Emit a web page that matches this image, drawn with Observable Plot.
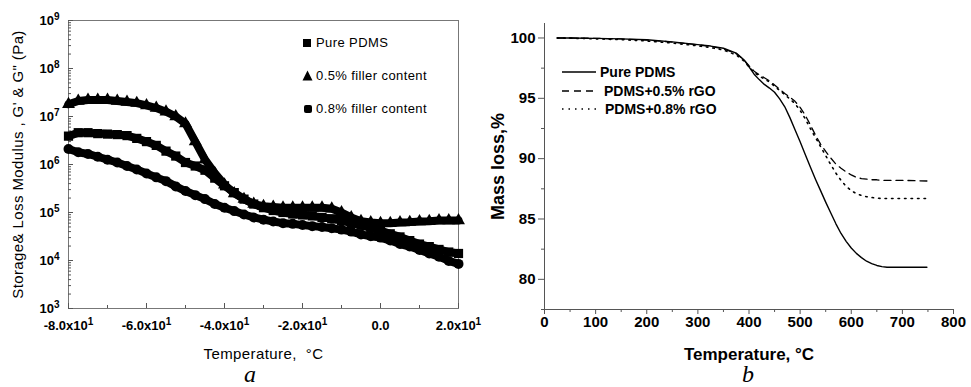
<!DOCTYPE html>
<html><head><meta charset="utf-8">
<script src="https://cdn.jsdelivr.net/npm/d3@7"></script>
<script src="https://cdn.jsdelivr.net/npm/@observablehq/plot@0.6"></script>
<style>
body{margin:0;background:#fff;}
#wrap{position:relative;width:971px;height:387px;overflow:hidden;background:#fff;font-family:"Liberation Sans",Arial,sans-serif;}
#pa{position:absolute;left:0;top:0;}
#pb{position:absolute;left:485px;top:0;}
.cap{position:absolute;font-family:"Liberation Serif","DejaVu Serif",serif;font-style:italic;font-size:24px;line-height:18px;}
.leg{position:absolute;display:flex;align-items:center;white-space:nowrap;color:#000;}
.legA{font-size:13px;letter-spacing:0.4px;}
.legB{font-size:14px;font-weight:bold;}
#pa [aria-label="y-axis tick label"],#pa [aria-label="x-axis tick label"]{font-size:13px;font-weight:bold;}
#pa [aria-label="y-axis label"],#pa [aria-label="x-axis label"]{font-size:15px;letter-spacing:0.4px;}
#pb [aria-label="y-axis tick label"],#pb [aria-label="x-axis tick label"]{font-size:15px;font-weight:bold;}
#pb [aria-label="y-axis label"]{font-size:18px;font-weight:bold;}
#pb [aria-label="x-axis label"]{font-size:17px;font-weight:bold;}
</style>
</head><body>
<div id="wrap"><div id="pa"></div><div id="pb"></div></div>
<script>
// ---------- Panel a: rheology ----------
const seriesNamesA = ["Pure PDMS", "0.5% filler content", "0.8% filler content"];
const tempA = [-80,-77.5,-75,-72.5,-70,-67.5,-65,-62.5,-60,-57.5,-55,-52.5,-50,-47.5,-45,-42.5,-40,-37.5,-35,-32.5,-30,-27.5,-25,-22.5,-20,-17.5,-15,-12.5,-10,-7.5,-5,-2.5,0,2.5,5,7.5,10,12.5,15,17.5,20];
const pureA = [3.9e6,4.6e6,4.6e6,4.4e6,4.3e6,4.2e6,4.0e6,3.5e6,3.0e6,2.5e6,1.9e6,1.5e6,1.1e6,9.3e5,7.6e5,5.2e5,3.6e5,2.6e5,1.9e5,1.5e5,1.26e5,1.1e5,1.0e5,9.3e4,8.9e4,8.5e4,7.9e4,7.4e4,6.8e4,6.0e4,5.4e4,4.8e4,4.2e4,3.6e4,3.1e4,2.6e4,2.2e4,1.95e4,1.7e4,1.5e4,1.4e4];
const f05A = [1.8e7,2.1e7,2.2e7,2.2e7,2.2e7,2.1e7,2.0e7,1.9e7,1.7e7,1.5e7,1.26e7,1.0e7,7.1e6,3.0e6,1.26e6,6.6e5,3.8e5,2.5e5,1.9e5,1.5e5,1.35e5,1.3e5,1.26e5,1.26e5,1.26e5,1.26e5,1.26e5,1.2e5,1.0e5,7.9e4,6.6e4,6.2e4,6.0e4,6.0e4,6.2e4,6.3e4,6.5e4,6.6e4,6.8e4,6.8e4,6.8e4];
const f08A = [2.1e6,1.8e6,1.66e6,1.45e6,1.26e6,1.1e6,9.3e5,7.9e5,6.5e5,5.4e5,4.5e5,3.5e5,2.8e5,2.3e5,1.9e5,1.5e5,1.26e5,1.07e5,9.1e4,7.9e4,7.1e4,6.5e4,6.0e4,5.8e4,5.5e4,5.2e4,5.0e4,4.7e4,4.4e4,4.0e4,3.5e4,3.2e4,3.0e4,2.6e4,2.2e4,1.95e4,1.66e4,1.4e4,1.2e4,9.8e3,8.5e3];
const xTicksA = [-80,-60,-40,-20,0,20];
const xTickLabelsA = ["-8.0x10¹","-6.0x10¹","-4.0x10¹","-2.0x10¹","0.0","2.0x10¹"];
const xMinorA = [-70,-50,-30,-10,10];
const yTicksA = [1e3,1e4,1e5,1e6,1e7,1e8,1e9];
const yTickLabelsA = ["10³","10⁴","10⁵","10⁶","10⁷","10⁸","10⁹"];

// ---------- Panel b: TGA ----------
const seriesNamesB = ["Pure PDMS", "PDMS+0.5% rGO", "PDMS+0.8% rGO"];
const tempB = [25,50,100,150,200,250,300,325,350,375,390,400,410,420,430,440,450,460,470,480,490,500,510,520,530,540,550,560,570,580,590,600,610,620,630,640,650,660,670,700,748];
const pureB = [100.0,100.0,99.97,99.93,99.85,99.68,99.45,99.33,99.15,98.75,98.2,97.6,97.0,96.55,96.15,95.85,95.5,94.95,94.3,93.4,92.4,91.4,90.35,89.3,88.3,87.35,86.4,85.5,84.6,83.8,83.15,82.6,82.15,81.8,81.5,81.3,81.15,81.05,81.0,81.0,81.0];
const f05B = [100.0,100.0,99.97,99.92,99.83,99.66,99.43,99.3,99.1,98.7,98.2,97.7,97.25,96.95,96.7,96.45,96.1,95.75,95.4,95.1,94.75,94.25,93.6,92.8,91.95,91.2,90.6,90.05,89.55,89.2,88.9,88.65,88.45,88.35,88.3,88.25,88.25,88.2,88.2,88.2,88.15];
const f08B = [100.0,99.98,99.93,99.86,99.75,99.58,99.35,99.2,99.0,98.6,98.1,97.6,97.15,96.85,96.6,96.35,96.0,95.65,95.3,94.95,94.55,94.0,93.3,92.5,91.75,91.0,90.25,89.5,88.8,88.2,87.7,87.35,87.1,86.95,86.85,86.78,86.72,86.7,86.7,86.7,86.7];
const xTicksB = [0,100,200,300,400,500,600,700,800];
const xMinorB = [50,150,250,350,450,550,650,750];
const yTicksB = [80,85,90,95,100];
const yMinorB = [77.5,82.5,87.5,92.5,97.5];

// tables
const rowsA = tempA.map((t, i) => ({t, pure: pureA[i], f05: f05A[i], f08: f08A[i]}));
const rowsB = tempB.map((t, i) => ({t, pure: pureB[i], f05: f05B[i], f08: f08B[i]}));
const yMinorA = [];
for (let e = 3; e < 9; e++) for (let m = 2; m <= 9; m++) yMinorA.push(m * Math.pow(10, e));
const xLabA = new Map(xTicksA.map((d, i) => [d, xTickLabelsA[i]]));
const yLabA = new Map(yTicksA.map((d, i) => [d, yTickLabelsA[i]]));

const font = "'Liberation Sans', Arial, sans-serif";

const chartA = Plot.plot({
  width: 485, height: 365,
  marginLeft: 68, marginRight: 27, marginTop: 20, marginBottom: 57,
  style: {fontFamily: font, color: "#000", background: "#fff", overflow: "visible"},
  x: {domain: [-80, 20]},
  y: {type: "log", domain: [1e3, 1e9]},
  marks: [
    Plot.frame({stroke: "#777"}),
    Plot.axisX(xTicksA, {tickSize: -5, tickPadding: 17, stroke: "#555", tickFormat: d => xLabA.get(d),
      label: "Temperature,  °C", labelAnchor: "center", labelOffset: 50, labelArrow: "none"}),
    Plot.axisX(xMinorA, {tickSize: -3, stroke: "#555", tickFormat: () => "", label: null}),
    Plot.axisY(yTicksA, {tickSize: -5, tickPadding: 14, stroke: "#555", tickFormat: d => yLabA.get(d),
      label: "Storage& Loss Modulus , G' & G\" (Pa)", labelAnchor: "center", labelOffset: 56, labelArrow: "none"}),
    Plot.axisY(yMinorA, {tickSize: -3, stroke: "#555", tickFormat: () => "", label: null}),
    Plot.line(rowsA, {x: "t", y: "pure", stroke: "#000", strokeWidth: 8}),
    Plot.line(rowsA, {x: "t", y: "f05", stroke: "#000", strokeWidth: 8}),
    Plot.line(rowsA, {x: "t", y: "f08", stroke: "#000", strokeWidth: 8}),
    Plot.dot(rowsA, {x: "t", y: "pure", symbol: "square", r: 5.2, fill: "#000"}),
    Plot.dot(rowsA, {x: "t", y: "f05", symbol: "triangle", r: 4.8, fill: "#000"}),
    Plot.dot(rowsA, {x: "t", y: "f08", symbol: "circle", r: 5, fill: "#000"})
  ]
});
document.getElementById("pa").append(chartA);

const chartB = Plot.plot({
  width: 486, height: 365,
  marginLeft: 59, marginRight: 18, marginTop: 23, marginBottom: 56,
  style: {fontFamily: font, color: "#000", background: "#fff", overflow: "visible"},
  x: {domain: [0, 800]},
  y: {domain: [77.5, 101.2]},
  marks: [
    Plot.ruleX([0], {stroke: "#555"}),
    Plot.ruleY([77.5], {stroke: "#555"}),
    Plot.axisX(xTicksB, {tickSize: 5, tickPadding: 2, stroke: "#555",
      label: "Temperature, °C", labelAnchor: "center", labelOffset: 50, labelArrow: "none"}),
    Plot.axisX(xMinorB, {tickSize: 3, stroke: "#555", tickFormat: () => "", label: null}),
    Plot.axisY(yTicksB, {tickSize: 6, tickPadding: 3, stroke: "#555",
      label: "Mass loss,%", labelAnchor: "center", labelOffset: 53, labelArrow: "none"}),
    Plot.axisY(yMinorB, {tickSize: 3, stroke: "#555", tickFormat: () => "", label: null}),
    Plot.line(rowsB, {x: "t", y: "pure", stroke: "#000", strokeWidth: 1.4}),
    Plot.line(rowsB, {x: "t", y: "f05", stroke: "#000", strokeWidth: 1.3, strokeDasharray: "7,5"}),
    Plot.line(rowsB, {x: "t", y: "f08", stroke: "#000", strokeWidth: 1.6, strokeDasharray: "1.5,5"})
  ]
});
document.getElementById("pb").append(chartB);

// render superscript exponents of panel a tick labels as raised tspans
const supMap = {"⁰":"0","¹":"1","²":"2","³":"3","⁴":"4","⁵":"5","⁶":"6","⁷":"7","⁸":"8","⁹":"9"};
document.querySelectorAll('#pa [aria-label$="tick label"] text').forEach(t => {
  const m = t.textContent.match(/^(.*?)([⁰¹²³⁴⁵⁶⁷⁸⁹]+)$/);
  if (!m) return;
  t.textContent = m[1];
  const ts = document.createElementNS("http://www.w3.org/2000/svg", "tspan");
  ts.setAttribute("dy", "-0.45em");
  ts.setAttribute("font-size", "10px");
  ts.textContent = m[2].split("").map(c => supMap[c]).join("");
  t.append(ts);
});

// legends & captions
const wrap = document.getElementById("wrap");
function addDiv(cls, left, top, html) {
  const d = document.createElement("div");
  d.className = cls; d.style.left = left + "px"; d.style.top = top + "px"; d.innerHTML = html;
  wrap.append(d); return d;
}
const symA = [
  '<svg width="12" height="10"><rect x="1" y="1" width="8" height="8" fill="#000"/></svg>',
  '<svg width="12" height="12"><path d="M5.5,0.5 L10.5,10.5 L0.5,10.5 Z" fill="#000"/></svg>',
  '<svg width="12" height="10"><rect x="2" y="1" width="8" height="8" rx="2" fill="#000"/></svg>'
];
const legTopA = [35, 68, 101];
seriesNamesA.forEach((n, i) => addDiv("leg legA", 302, legTopA[i], symA[i] + '<span style="margin-left:2px">' + n + '</span>'));
const dashB = ["", "7,5", "1.5,5"];
const legTopB = [63, 82, 100];
const legGap = [4, 8, 9];
seriesNamesB.forEach((n, i) => addDiv("leg legB", 562, legTopB[i],
  '<svg width="34" height="18"><line x1="0" x2="34" y1="9" y2="9" stroke="#000" stroke-width="1.5"' +
  (dashB[i] ? ' stroke-dasharray="' + dashB[i] + '"' : '') + '/></svg><span style="margin-left:' + legGap[i] + 'px">' + n + '</span>'));
addDiv("cap", 244, 365, "a");
addDiv("cap", 742, 365, "b");
</script>
</body></html>
